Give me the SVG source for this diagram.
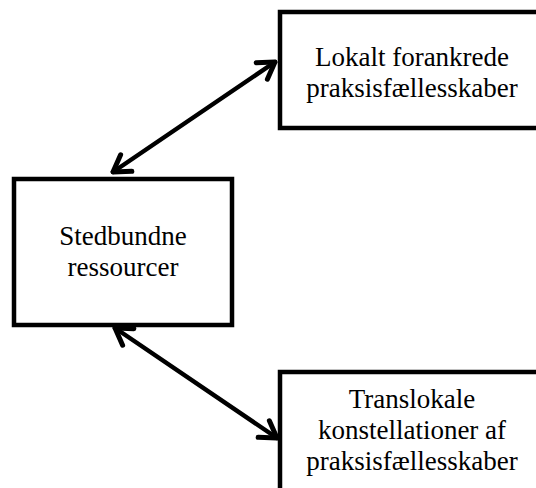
<svg xmlns="http://www.w3.org/2000/svg" width="536" height="488" viewBox="0 0 536 488">
  <defs>
    <style>
      .box { fill: #ffffff; stroke: #000000; stroke-width: 4.5; }
      .lbl { font-family: "Liberation Serif", "Times New Roman", serif; font-size: 27px; fill: #000000; text-anchor: middle; }
      .conn { stroke: #000000; stroke-width: 4.5; fill: none; stroke-linecap: round; }
    </style>
    <marker id="chev" markerUnits="userSpaceOnUse" markerWidth="40" markerHeight="40" viewBox="-20 -20 40 40" refX="0" refY="0" orient="auto-start-reverse" overflow="visible">
      <path d="M -16 -10 L 0 0 L -16 10" fill="none" stroke="#000000" stroke-width="5" stroke-linecap="round" stroke-linejoin="round"/>
    </marker>
  </defs>
  <rect width="536" height="488" fill="#ffffff"/>
  <g id="connectors">
    <line class="conn" x1="113" y1="172" x2="275" y2="62" marker-start="url(#chev)" marker-end="url(#chev)"/>
    <line class="conn" x1="115" y1="328" x2="277" y2="438" marker-start="url(#chev)" marker-end="url(#chev)"/>
  </g>
  <g id="node-lokalt">
    <rect class="box" x="280" y="12" width="266" height="116"/>
    <text class="lbl" x="412" y="66">Lokalt forankrede</text>
    <text class="lbl" x="412" y="97">praksisfællesskaber</text>
  </g>
  <g id="node-stedbundne">
    <rect class="box" x="14" y="179" width="218" height="146"/>
    <text class="lbl" x="123" y="245">Stedbundne</text>
    <text class="lbl" x="123" y="276">ressourcer</text>
  </g>
  <g id="node-translokale">
    <rect class="box" x="280" y="372" width="266" height="130"/>
    <text class="lbl" x="412" y="408">Translokale</text>
    <text class="lbl" x="412" y="439">konstellationer af</text>
    <text class="lbl" x="412" y="470">praksisfællesskaber</text>
  </g>
</svg>
